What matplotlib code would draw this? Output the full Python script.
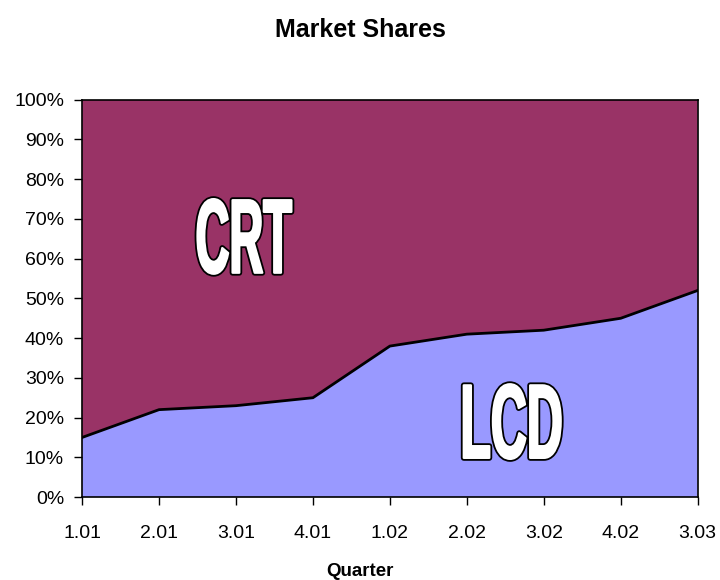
import matplotlib
matplotlib.use("Agg")
import matplotlib.pyplot as plt
import numpy as np
from matplotlib.textpath import TextPath
from matplotlib.patches import PathPatch
from matplotlib.font_manager import FontProperties
from matplotlib.transforms import Affine2D
from matplotlib.ticker import PercentFormatter

plt.rcParams['font.family'] = ['Liberation Sans', 'DejaVu Sans']

quarters = ['1.01', '2.01', '3.01', '4.01', '1.02', '2.02', '3.02', '4.02', '3.03']
lcd = [15, 22, 23, 25, 38, 41, 42, 45, 52]
crt = [100 - v for v in lcd]

crt_color = '#993366'
lcd_color = '#9999ff'


def outlined_label(ax, text, x0, x1, y0, y1):
    # heavy white letters with thin black outline, squeezed into a data box
    tp = TextPath((0, 0), text, size=1,
                  prop=FontProperties(family='Liberation Sans', weight='bold'))
    ext = tp.get_extents()
    sx = (x1 - x0) / ext.width
    sy = (y1 - y0) / ext.height
    tr = Affine2D().translate(-ext.x0, -ext.y0).scale(sx, sy).translate(x0, y0)
    path = tr.transform_path(tp)
    ax.add_patch(PathPatch(path, facecolor='black', edgecolor='black',
                           lw=4.2, joinstyle='round', zorder=5))
    ax.add_patch(PathPatch(path, facecolor='white', edgecolor='white',
                           lw=1.6, joinstyle='round', zorder=6))


fig = plt.figure(figsize=(7.2, 5.8), dpi=100)
ax = fig.add_axes([0.114, 0.143, 0.855, 0.685])

x = np.arange(len(quarters))
ax.stackplot(x, lcd, crt, colors=[lcd_color, crt_color], linewidth=0)
ax.plot(x, lcd, color='black', lw=2, zorder=4)

ax.set_xlim(0, len(quarters) - 1)
ax.set_ylim(0, 100)
ax.set_xticks(x)
ax.set_xticklabels(quarters, fontsize=14)
ax.set_yticks(np.arange(0, 101, 10))
ax.yaxis.set_major_formatter(PercentFormatter(decimals=0))
ax.tick_params(axis='y', labelsize=14, length=6, width=1, direction='out', pad=7)
ax.tick_params(axis='x', length=6, width=1, direction='out', pad=14)
for s in ax.spines.values():
    s.set_color('black')
    s.set_linewidth(1.2)

outlined_label(ax, 'CRT', 1.50, 2.72, 56.2, 75.0)
outlined_label(ax, 'LCD', 4.96, 6.22, 9.6, 28.4)

fig.text(0.5, 1 - 571 / 580, 'Quarter', fontsize=13.5, fontweight='bold',
         ha='center', va='center')
fig.text(0.5, 1 - 30 / 580, 'Market Shares', fontsize=18, fontweight='bold',
         ha='center', va='center')

fig.savefig('out.png', dpi=100)
